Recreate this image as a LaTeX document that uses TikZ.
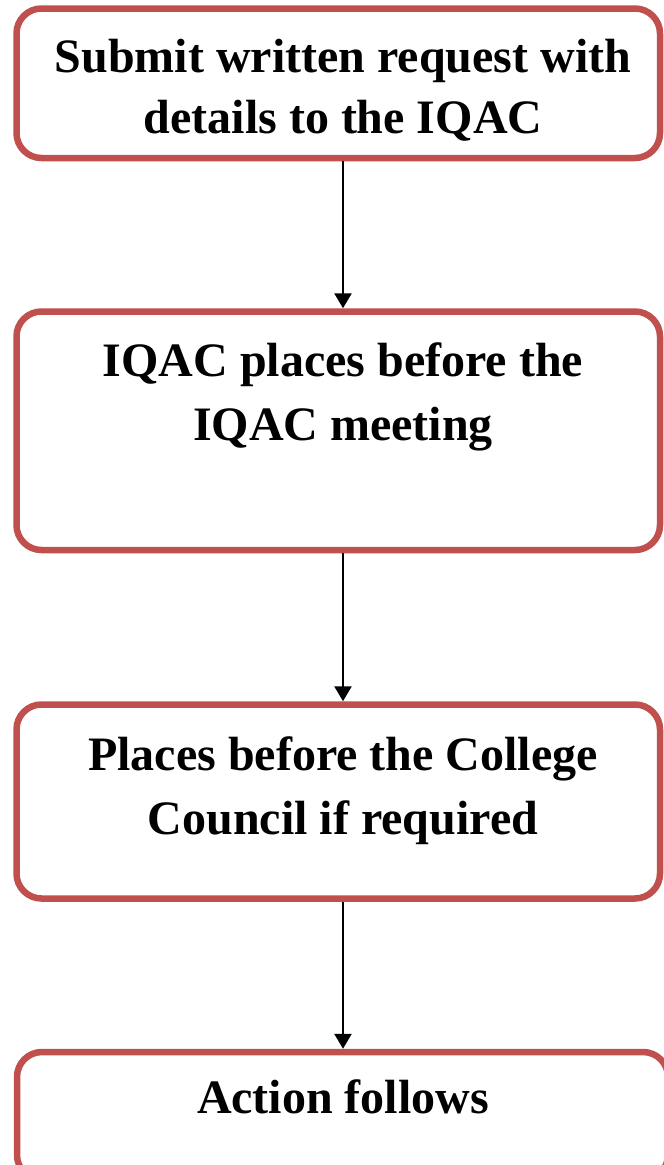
\documentclass[tikz,border=0pt]{standalone}
\usepackage{fontspec}
\setmainfont{Liberation Serif}
\usetikzlibrary{arrows.meta}
\definecolor{boxred}{HTML}{C0504D}
\begin{document}
\begin{tikzpicture}[x=1pt,y=-1pt,
  stagebox/.style={draw=boxred, line width=6.5pt, rounded corners=25pt,
    inner sep=0pt, fill=white},
  stagetext/.style={anchor=north, inner sep=0pt, align=center,
    font=\bfseries\fontsize{48}{64}\selectfont},
  flow/.style={line width=2.6pt, -{Triangle[length=15pt,width=17pt]}}]
\clip (0,0) rectangle (664,1165);
\fill[white] (0,0) rectangle (664,1165);

% stage boxes
\node[stagebox, minimum width=643.5pt, minimum height=149.5pt] (b1) at (338.25,83.25) {};
\node[stagebox, minimum width=643.5pt, minimum height=238.5pt] (b2) at (338.25,430.75) {};
\node[stagebox, minimum width=643.5pt, minimum height=194pt] (b3) at (338.25,801.5) {};
\node[stagebox, minimum width=651pt, minimum height=128pt] (b4) at (342.5,1116) {};

% stage texts
\node[stagetext, font=\bfseries\fontsize{48}{61}\selectfont] (t1) at (343,39)
  {Submit written request with\\details to the IQAC};
\node[stagetext] (t2) at (343,342) {IQAC places before the\\IQAC meeting};
\node[stagetext] (t3) at (343,736) {Places before the College\\Council if required};
\node[stagetext] (t4) at (343,1079) {Action follows};

% connectors
\draw[flow] (t1 |- b1.south) -- (t1 |- b2.north);
\draw[flow] (t1 |- b2.south) -- (t1 |- b3.north);
\draw[flow] (t1 |- b3.south) -- (t1 |- b4.north);
\end{tikzpicture}
\end{document}
